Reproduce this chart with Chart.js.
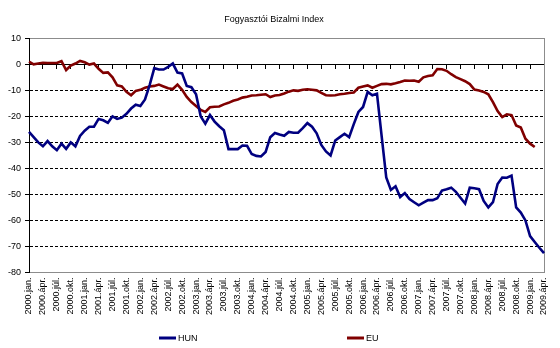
<!DOCTYPE html>
<html><head><meta charset="utf-8">
<script src="https://cdn.jsdelivr.net/npm/chart.js@4/dist/chart.umd.min.js"></script>
<style>html,body{margin:0;padding:0;background:#fff}#wrap{width:560px;height:348px}</style>
</head><body><div id="wrap"><canvas id="c" width="560" height="348"></canvas></div>
<script>
const titleText = 'Fogyasztói Bizalmi Index';
const years = [2000,2001,2002,2003,2004,2005,2006,2007,2008,2009];
const monthNames = ['jan.','febr.','márc.','ápr.','máj.','jún.','júl.','aug.','szept.','okt.','nov.','dec.'];
const lastMonthIndex2009 = 3; // 2009.ápr.
const categories = [];
years.forEach(y => monthNames.forEach((m, k) => {
  if (y < 2009 || k <= lastMonthIndex2009) categories.push(y + '.' + m);
}));
const seriesNames = ['HUN', 'EU'];
const hun = [
-26,-28,-30,-31.5,-29.5,-31.5,-33,-30.5,-32.5,-30,-31.5,-27.5,
-25.5,-24,-24,-21,-21.5,-22.5,-20,-21,-20.5,-19,-17,-15.5,
-16,-13.5,-8,-1.5,-2,-2,-1,0.3,-3.2,-3.5,-8.3,-8.8,
-11.5,-20,-22.8,-19.5,-22,-23.8,-25.3,-32.6,-32.6,-32.6,-31.2,-31.3,
-34.5,-35.2,-35.4,-33.7,-28,-26.4,-27,-27.5,-26,-26.3,-26.3,-24.5,
-22.6,-24,-26.5,-31,-33.5,-35,-29.3,-28,-26.7,-28,-23,-18.3,
-16.4,-10.6,-11.9,-11.3,-27.5,-43.5,-48.3,-46.9,-51,-49.5,-51.8,-53,
-54.2,-53.2,-52.2,-52.2,-51.5,-48.5,-48,-47.4,-49,-51.3,-53.5,-47.4,
-47.6,-48,-52.5,-55,-53,-46,-43.5,-43.6,-42.8,-55,-57,-60,
-66,-68.3,-70.5,-72.6];
const eu = [
1,0,0.3,0.6,0.5,0.5,0.5,1.2,-2.2,-0.5,0.3,1.3,
0.8,-0.1,0.3,-1.7,-3.3,-3.1,-5,-8.1,-8.5,-10.6,-11.9,-10.2,
-9.8,-9,-8.5,-8.3,-7.8,-8.5,-9.2,-9.5,-7.8,-9.8,-12.5,-14.5,
-16,-17.5,-18.3,-16.5,-16.3,-16.2,-15.4,-14.8,-14,-13.5,-12.8,-12.5,
-12,-11.9,-11.7,-11.5,-12.6,-12,-11.8,-11.2,-10.5,-10,-10.2,-9.8,
-9.6,-9.8,-10,-11,-11.9,-12,-11.9,-11.5,-11.3,-11,-10.8,-9,
-8.5,-8.1,-9,-8.3,-7.6,-7.5,-7.7,-7.3,-6.8,-6.2,-6.3,-6.2,
-6.7,-5,-4.5,-4.2,-1.8,-1.9,-2.5,-3.8,-4.9,-5.7,-6.5,-7.6,
-9.7,-10.1,-10.6,-11.5,-14.5,-18,-20.3,-19.2,-19.5,-23.5,-24.3,-28.6,
-30.5,-31.8];
const yMin = -80, yMax = 10, yStep = 10;
const labelEvery = 3;

const FONT = '"Liberation Sans", Arial, sans-serif';
Chart.defaults.font.family = FONT;
Chart.defaults.color = '#000';

const frameGray = '#8c8c8c';
const isFrame = v => v === yMax || v === yMin;

const legendPlugin = {
  id: 'excelLegend',
  afterDraw(chart) {
    const ctx = chart.ctx;
    const xs = [159, 347];
    const y = 338;
    chart.data.datasets.forEach((ds, i) => {
      ctx.save();
      ctx.strokeStyle = ds.borderColor;
      ctx.lineWidth = 3;
      ctx.beginPath();
      ctx.moveTo(xs[i], y);
      ctx.lineTo(xs[i] + 17, y);
      ctx.stroke();
      ctx.fillStyle = '#000';
      ctx.font = '9px ' + FONT;
      ctx.textBaseline = 'middle';
      ctx.textAlign = 'left';
      ctx.fillText(ds.label, xs[i] + 19, y + 0.5);
      ctx.restore();
    });
  }
};

new Chart(document.getElementById('c'), {
  type: 'line',
  data: {
    labels: categories,
    datasets: [
      { label: seriesNames[0], data: hun, borderColor: '#000080', borderWidth: 2.6, pointRadius: 0, tension: 0, xAxisID: 'x', yAxisID: 'y' },
      { label: seriesNames[1], data: eu, borderColor: '#800000', borderWidth: 2.6, pointRadius: 0, tension: 0, xAxisID: 'x', yAxisID: 'y' }
    ]
  },
  options: {
    responsive: false,
    animation: false,
    devicePixelRatio: 1,
    layout: { padding: { left: 4, right: 16, top: 0, bottom: 28 } },
    plugins: {
      legend: { display: false },
      tooltip: { enabled: false },
      title: {
        display: true, text: titleText, color: '#000',
        font: { size: 9, weight: 'normal' },
        padding: { top: 14, bottom: 13.5 }
      }
    },
    scales: {
      x: {
        type: 'category',
        position: { y: 0 },
        offset: false,
        ticks: { display: false, autoSkip: false },
        grid: {
          display: true, drawOnChartArea: false, drawTicks: true, tickLength: 4,
          tickColor: c => (c.index % labelEvery === 0) ? '#000' : 'rgba(0,0,0,0)',
          color: 'rgba(0,0,0,0)'
        },
        border: { display: true, color: '#000', width: 1 }
      },
      x2: {
        type: 'category',
        position: 'bottom',
        offset: false,
        grid: { display: false, drawTicks: false },
        border: { display: false },
        ticks: {
          autoSkip: false, maxRotation: 90, minRotation: 90, padding: 5,
          font: { size: 9 }, color: '#000',
          callback: (v, i) => (i % labelEvery === 0) ? categories[i] : null
        }
      },
      y: {
        type: 'linear',
        position: 'left',
        min: yMin, max: yMax,
        ticks: { stepSize: yStep, font: { size: 9 }, color: '#000', padding: 4 },
        grid: {
          color: c => { const v = c.tick && c.tick.value; if (isFrame(v)) return frameGray; if (v === 0) return 'rgba(0,0,0,0)'; return '#000'; },
          lineWidth: 1,
          tickColor: '#000', tickLength: 4, tickBorderDash: [],
          borderDash: c => (c.tick && isFrame(c.tick.value)) ? [] : [3, 2]
        },
        border: {
          display: true, color: '#000', width: 1,
          dash: c => (c.tick && !isFrame(c.tick.value)) ? [3, 2] : []
        }
      },
      y2: {
        type: 'linear',
        position: 'right',
        min: yMin, max: yMax,
        ticks: { display: false },
        grid: { display: false, drawTicks: false },
        border: { display: true, color: frameGray, width: 1 }
      }
    }
  },
  plugins: [legendPlugin]
});
</script>
</body></html>
